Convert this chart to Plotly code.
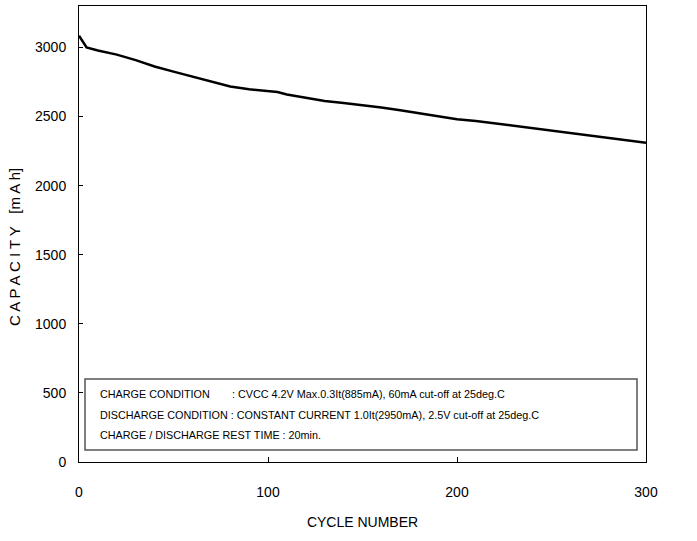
import plotly.graph_objects as go

cycles = [0, 2, 4, 10, 20, 30, 40, 50, 60, 70, 80, 90, 100, 105, 110, 120, 130, 140,
          150, 160, 170, 180, 190, 200, 210, 220, 230, 240, 250, 260, 270, 280, 290, 300]
capacity = [3085, 3040, 3000, 2978, 2948, 2908, 2862, 2825, 2790, 2752, 2717, 2697, 2681,
            2678, 2660, 2635, 2613, 2598, 2584, 2565, 2545, 2525, 2502, 2480, 2468, 2450,
            2432, 2415, 2396, 2377, 2362, 2345, 2328, 2310]

x_ticks = [0, 100, 200, 300]
y_ticks = [0, 500, 1000, 1500, 2000, 2500, 3000]

note_label_1 = "CHARGE CONDITION"
note_value_1 = ": CVCC 4.2V Max.0.3It(885mA), 60mA cut-off at 25deg.C"
note_line_2 = "DISCHARGE CONDITION : CONSTANT CURRENT 1.0It(2950mA), 2.5V cut-off at 25deg.C"
note_line_3 = "CHARGE / DISCHARGE REST TIME : 20min."

FONT = "Liberation Sans, Arial, sans-serif"

L, R, T, B = 79, 646, 6, 462
W, H = R - L, B - T


def px_x(p):
    return (p - L) / W


def px_y(p):
    return (B - p) / H


fig = go.Figure()
fig.add_trace(go.Scatter(x=cycles, y=capacity, mode="lines",
                         line=dict(color="black", width=2.5), showlegend=False))

fig.update_layout(
    width=697, height=541,
    margin=dict(l=L, r=697 - R, t=T, b=541 - B, autoexpand=False),
    plot_bgcolor="white", paper_bgcolor="white",
    font=dict(family=FONT, size=14, color="black"),
    xaxis=dict(range=[0, 300], tickvals=x_ticks, ticks="inside", ticklen=5,
               tickcolor="black", showgrid=False, zeroline=False, automargin=False,
               showline=True, linecolor="black", linewidth=1, mirror=True,
               ticklabelstandoff=17, tickfont=dict(size=14),
               title=dict(text="CYCLE NUMBER", standoff=18, font=dict(size=14))),
    yaxis=dict(range=[0, 3300], tickvals=y_ticks, ticks="inside", ticklen=4,
               tickcolor="black", showgrid=False, zeroline=False, automargin=False,
               showline=True, linecolor="black", linewidth=1, mirror=True,
               ticklabelstandoff=9, tickfont=dict(size=14)),
)

# y-axis title (placed as annotation to match its off-centre position)
fig.add_annotation(xref="paper", yref="paper", x=px_x(15), y=px_y(247),
                   xanchor="center", yanchor="middle", textangle=-90, showarrow=False,
                   text="C A P A C I T Y\u00a0\u00a0 [m A h]", font=dict(size=15, family=FONT))

fig.add_shape(type="rect", xref="paper", yref="paper",
              x0=px_x(85), x1=px_x(637), y0=px_y(450), y1=px_y(379),
              line=dict(color="#555555", width=1.5), fillcolor="white", layer="above")

colon_x = 97.5 + 132
rows = [
    (97.5, 394, note_label_1),
    (colon_x, 394, note_value_1),
    (97.5, 414.5, note_line_2),
    (97.5, 434.5, note_line_3),
]
for xp, yp, txt in rows:
    fig.add_annotation(xref="paper", yref="paper", x=px_x(xp), y=px_y(yp),
                       xanchor="left", yanchor="middle", align="left", showarrow=False,
                       text=txt, font=dict(size=10.8, family=FONT))

fig.write_html("out.html", config={"displayModeBar": False},
               post_script="document.body.style.margin='0';")
